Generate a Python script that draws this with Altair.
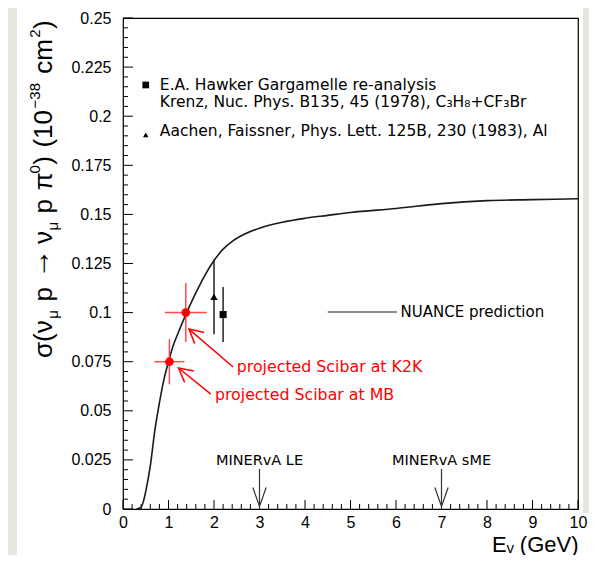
import math
import altair as alt
import pandas as pd

# ---------------- data ----------------
curve_E = [0.30, 0.40, 0.45, 0.50, 0.60, 0.70, 0.80, 0.90, 1.00, 1.10, 1.20, 1.40, 1.60,
           1.80, 2.00, 2.20, 2.40, 2.70, 3.00, 3.50, 4.00, 4.50, 5.00, 6.00, 7.00, 8.00,
           9.00, 10.0]
curve_sigma = [0.0, 0.001, 0.004, 0.009, 0.022, 0.040, 0.054, 0.066, 0.075, 0.083, 0.089,
               0.100, 0.110, 0.119, 0.1265, 0.1323, 0.1363, 0.1403, 0.1430, 0.1460, 0.1480,
               0.1495, 0.151, 0.153, 0.1555, 0.157, 0.1575, 0.158]

scibar_names = ["K2K", "MB"]
scibar_E = [1.38, 1.02]
scibar_sigma = [0.100, 0.075]
scibar_errE = [0.46, 0.33]
scibar_errSigma = [0.015, 0.0115]

gargamelle_E = [2.2]
gargamelle_sigma = [0.099]
gargamelle_err = [0.014]

aachen_E = [2.0]
aachen_sigma = [0.108]
aachen_err = [0.019]

legend_texts = ["E.A. Hawker Gargamelle re-analysis",
                "Krenz, Nuc. Phys. B135, 45 (1978), C\u2083H\u2088+CF\u2083Br",
                "Aachen, Faissner, Phys. Lett. 125B, 230 (1983), Al"]
legend_text_E = [0.81, 0.81, 0.81]
legend_text_sigma = [0.2159, 0.2072, 0.1925]
legend_sq_E, legend_sq_sigma = [0.50], [0.2159]
legend_tri_E, legend_tri_sigma = [0.50], [0.1905]

nuance_label = ["NUANCE prediction"]
nuance_line_E = [4.5]
nuance_line_E2 = [6.02]
nuance_line_sigma = [0.1003]
nuance_text_E = [6.1]

red_texts = ["projected Scibar at K2K", "projected Scibar at MB"]
red_text_E = [2.50, 2.02]
red_text_sigma = [0.0723, 0.058]
red_tail_E = [2.42, 1.93]
red_tail_sigma = [0.0723, 0.0585]
red_tip_E = [1.45, 1.22]
red_tip_sigma = [0.0916, 0.0718]

minerva_texts = ["MINERvA LE", "MINERvA sME"]
minerva_E = [3.0, 7.0]
minerva_text_sigma = [0.0246, 0.0246]
minerva_top_sigma = [0.0204, 0.0204]
minerva_tip_sigma = [0.0013, 0.0013]

x_major = list(range(0, 11))
y_major = [0, 0.025, 0.05, 0.075, 0.1, 0.125, 0.15, 0.175, 0.2, 0.225, 0.25]

x_title = "E\u1d65 (GeV)"
# y title pieces: (text, role); role n = normal, sub = subscript, sup = superscript, gap = space
y_title_pieces = [("\u03c3(\u03bd", "n"), ("\u03bc", "sub"), ("", "gap"), ("p", "n"),
                  ("", "gap"), ("\u2192", "arrow"), ("", "gap"),
                  ("\u03bd", "n"), ("\u03bc", "sub"), ("", "gap"), ("p", "n"), ("", "gap"),
                  ("\u03c0", "n"), ("0", "sup"), (")", "n"), ("", "gap"), ("(10", "n"),
                  ("\u221238", "sup"), ("", "gap"), ("cm", "n"), ("2", "sup"), (")", "n")]

# ---------------- layout ----------------
W, H = 455, 491
XMAX, YMAX = 10.0, 0.25
FONT = "Liberation Sans"
TFONT = "DejaVu Sans"
GREY = "#e8e4de"
x_minor = [i * 0.2 for i in range(51) if i % 5 != 0]
y_minor = [i * 0.005 for i in range(51) if i % 5 != 0]

# approximate advance widths (em) for laying out the y title
EM = {"\u03c3": 0.617, "(": 0.333, ")": 0.333, "\u03bd": 0.5, "\u03bc": 0.576, "p": 0.556,
      "\u2192": 0.84, "\u03c0": 0.62, "0": 0.556, "1": 0.556, "3": 0.556, "8": 0.556,
      "2": 0.556, "\u2212": 0.584, "c": 0.5, "m": 0.833}
NSIZE, SSIZE, ASIZE = 26, 15, 30
role_style = {"n": (NSIZE, -71), "sub": (SSIZE, -65), "sup": (SSIZE, -83),
              "arrow": (ASIZE, -71), "gap": (NSIZE, 0)}
TITLE_BOTTOM, TITLE_TOP = 340, 2   # plot-relative pixel span of the y title


def piece_width(txt, role):
    size = role_style[role][0]
    if role == "gap":
        return 0.3 * size
    return sum(EM.get(c, 0.55) for c in txt) * size


widths = [piece_width(t, r) for t, r in y_title_pieces]
scale_f = (TITLE_BOTTOM - TITLE_TOP) / sum(widths)

xs = alt.Scale(domain=[0, XMAX], nice=False, zero=False)
ys = alt.Scale(domain=[0, YMAX], nice=False, zero=False)

x_axis = alt.Axis(values=x_major, ticks=False, domain=False, grid=False, zindex=1,
                  labelFont=FONT, labelFontSize=16, labelColor="black",
                  labelPadding=5, labelFlush=False, labelOverlap=False,
                  title=x_title, titleFont=FONT, titleFontSize=22,
                  titleFontWeight="normal", titleColor="black",
                  titleX=W, titleY=42, titleAlign="right", titleBaseline="alphabetic")
y_axis = alt.Axis(values=y_major, format=".3~f", ticks=False, domain=False, grid=False,
                  zindex=1, title="",
                  labelFont=FONT, labelFontSize=16, labelColor="black",
                  labelPadding=12, labelFlush=False, labelOverlap=False)

X = alt.X("E:Q", scale=xs, axis=x_axis)
Y = alt.Y("sigma:Q", scale=ys, axis=y_axis)

layers = []
one = alt.Data(values=[{}])

# grey page border strips
strips = alt.Chart(one).mark_rect(color=GREY)
layers.append(strips.encode(x=alt.value(-120), x2=alt.value(-106),
                            y=alt.value(-12), y2=alt.value(H + 60)))
layers.append(strips.encode(x=alt.value(460), x2=alt.value(480),
                            y=alt.value(-12), y2=alt.value(H + 4)))

# y-axis title built from pieces (for sub/superscripts)
pos = TITLE_BOTTOM
for (txt, role), w in zip(y_title_pieces, widths):
    if role != "gap":
        size, xpos = role_style[role]
        layers.append(alt.Chart(one).mark_text(
            text=txt, angle=270, align="left", baseline="alphabetic",
            font=FONT, fontSize=size, color="black").encode(
            x=alt.value(xpos if role != "arrow" else xpos - 3), y=alt.value(pos)))
    pos -= w * scale_f

# ticks (inward)
def xticks(vals, L):
    return alt.Chart(pd.DataFrame({"E": vals})).mark_rule(color="black", strokeWidth=1).encode(
        x=X, y=alt.value(H), y2=alt.value(H - L))

def yticks(vals, L):
    return alt.Chart(pd.DataFrame({"sigma": vals})).mark_rule(color="black", strokeWidth=1).encode(
        y=Y, x=alt.value(0), x2=alt.value(L))

layers += [xticks(x_major, 9), xticks(x_minor, 5), yticks(y_major, 10), yticks(y_minor, 5)]

# NUANCE curve
curve_df = pd.DataFrame({"E": curve_E, "sigma": curve_sigma})
layers.append(alt.Chart(curve_df).mark_line(color="#1a1a1a", strokeWidth=1.6,
                                             interpolate="monotone").encode(x=X, y=Y))

# NUANCE legend line + text
nu_df = pd.DataFrame({"E": nuance_line_E, "E2": nuance_line_E2, "sigma": nuance_line_sigma,
                      "tE": nuance_text_E, "label": nuance_label})
layers.append(alt.Chart(nu_df).mark_rule(color="#1a1a1a", strokeWidth=1.2).encode(
    x=X, x2="E2:Q", y=Y))
layers.append(alt.Chart(nu_df).mark_text(align="left", baseline="middle", font=TFONT,
                                         fontSize=15, color="black").encode(
    x=alt.X("tE:Q", scale=xs), y=Y, text="label:N"))

# Aachen (triangle) and Gargamelle (square) with error bars
aa_df = pd.DataFrame({"E": aachen_E, "sigma": aachen_sigma,
                      "lo": [s - e for s, e in zip(aachen_sigma, aachen_err)],
                      "hi": [s + e for s, e in zip(aachen_sigma, aachen_err)]})
ga_df = pd.DataFrame({"E": gargamelle_E, "sigma": gargamelle_sigma,
                      "lo": [s - e for s, e in zip(gargamelle_sigma, gargamelle_err)],
                      "hi": [s + e for s, e in zip(gargamelle_sigma, gargamelle_err)]})
for df, shape, size in [(aa_df, "triangle-up", 55), (ga_df, "square", 50)]:
    layers.append(alt.Chart(df).mark_rule(color="#222", strokeWidth=1.5).encode(
        x=X, y=alt.Y("lo:Q", scale=ys), y2="hi:Q"))
    layers.append(alt.Chart(df).mark_point(shape=shape, filled=True, color="black",
                                           size=size, opacity=1).encode(x=X, y=Y))

# Scibar projected points
sc_df = pd.DataFrame({"E": scibar_E, "sigma": scibar_sigma,
                      "xlo": [a - b for a, b in zip(scibar_E, scibar_errE)],
                      "xhi": [a + b for a, b in zip(scibar_E, scibar_errE)],
                      "ylo": [a - b for a, b in zip(scibar_sigma, scibar_errSigma)],
                      "yhi": [a + b for a, b in zip(scibar_sigma, scibar_errSigma)]})
layers.append(alt.Chart(sc_df).mark_rule(color="#ff4a4a", strokeWidth=1.5).encode(
    x=alt.X("xlo:Q", scale=xs), x2="xhi:Q", y=Y))
layers.append(alt.Chart(sc_df).mark_rule(color="#ff4a4a", strokeWidth=1.5).encode(
    x=X, y=alt.Y("ylo:Q", scale=ys), y2="yhi:Q"))
layers.append(alt.Chart(sc_df).mark_point(shape="circle", filled=True, color="#ff0000",
                                          size=75, opacity=1).encode(x=X, y=Y))

# red arrows and labels
def angle(tE, tS, hE, hS):
    dx = (hE - tE) * W / XMAX
    dy = -(hS - tS) * H / YMAX
    return math.degrees(math.atan2(-dx, dy)) % 360

ra_df = pd.DataFrame({"E": red_tail_E, "sigma": red_tail_sigma,
                      "E2": red_tip_E, "S2": red_tip_sigma,
                      "ang": [angle(a, b, c, d) for a, b, c, d in
                              zip(red_tail_E, red_tail_sigma, red_tip_E, red_tip_sigma)]})
layers.append(alt.Chart(ra_df).mark_rule(color="#ff0000", strokeWidth=1.5).encode(
    x=X, y=Y, x2="E2:Q", y2="S2:Q"))
layers.append(alt.Chart(ra_df).mark_point(shape="M-0.53,-1L0,0L0.53,-1", filled=False,
                                          color="#ff0000", strokeWidth=1.5, size=760,
                                          opacity=1).encode(
    x=alt.X("E2:Q", scale=xs), y=alt.Y("S2:Q", scale=ys),
    angle=alt.Angle("ang:Q", scale=None)))
rt_df = pd.DataFrame({"E": red_text_E, "sigma": red_text_sigma, "label": red_texts})
layers.append(alt.Chart(rt_df).mark_text(align="left", baseline="middle", font=TFONT,
                                         fontSize=15.8, color="#ff0000").encode(
    x=X, y=Y, text="label:N"))

# MINERvA arrows
mv_df = pd.DataFrame({"E": minerva_E, "sigma": minerva_text_sigma,
                      "top": minerva_top_sigma, "tip": minerva_tip_sigma,
                      "label": minerva_texts})
layers.append(alt.Chart(mv_df).mark_text(align="center", baseline="middle", font=TFONT,
                                         fontSize=14.5, color="black").encode(
    x=X, y=Y, text="label:N"))
layers.append(alt.Chart(mv_df).mark_rule(color="#333", strokeWidth=1.2).encode(
    x=X, y=alt.Y("top:Q", scale=ys), y2="tip:Q"))
layers.append(alt.Chart(mv_df).mark_point(shape="M-0.35,-1L0,0L0.35,-1", filled=False,
                                          color="#333", strokeWidth=1.2, size=1444,
                                          opacity=1).encode(
    x=X, y=alt.Y("tip:Q", scale=ys)))

# upper legend
lt_df = pd.DataFrame({"E": legend_text_E, "sigma": legend_text_sigma, "label": legend_texts})
layers.append(alt.Chart(lt_df).mark_text(align="left", baseline="middle", font=TFONT,
                                         fontSize=15.5, color="black").encode(
    x=X, y=Y, text="label:N"))
layers.append(alt.Chart(pd.DataFrame({"E": legend_sq_E, "sigma": legend_sq_sigma}))
              .mark_point(shape="square", filled=True, color="black", size=45, opacity=1)
              .encode(x=X, y=Y))
layers.append(alt.Chart(pd.DataFrame({"E": legend_tri_E, "sigma": legend_tri_sigma}))
              .mark_point(shape="triangle-up", filled=True, color="black", size=30, opacity=1)
              .encode(x=X, y=Y))

chart = alt.layer(*layers).properties(
    width=W, height=H,
    padding={"left": 115, "top": 10, "right": 11, "bottom": 46},
    autosize=alt.AutoSizeParams(type="none"),
    background="white",
).configure_view(stroke="black", strokeWidth=1.2)

chart.save("out.html", embed_options={"renderer": "svg", "actions": False})
